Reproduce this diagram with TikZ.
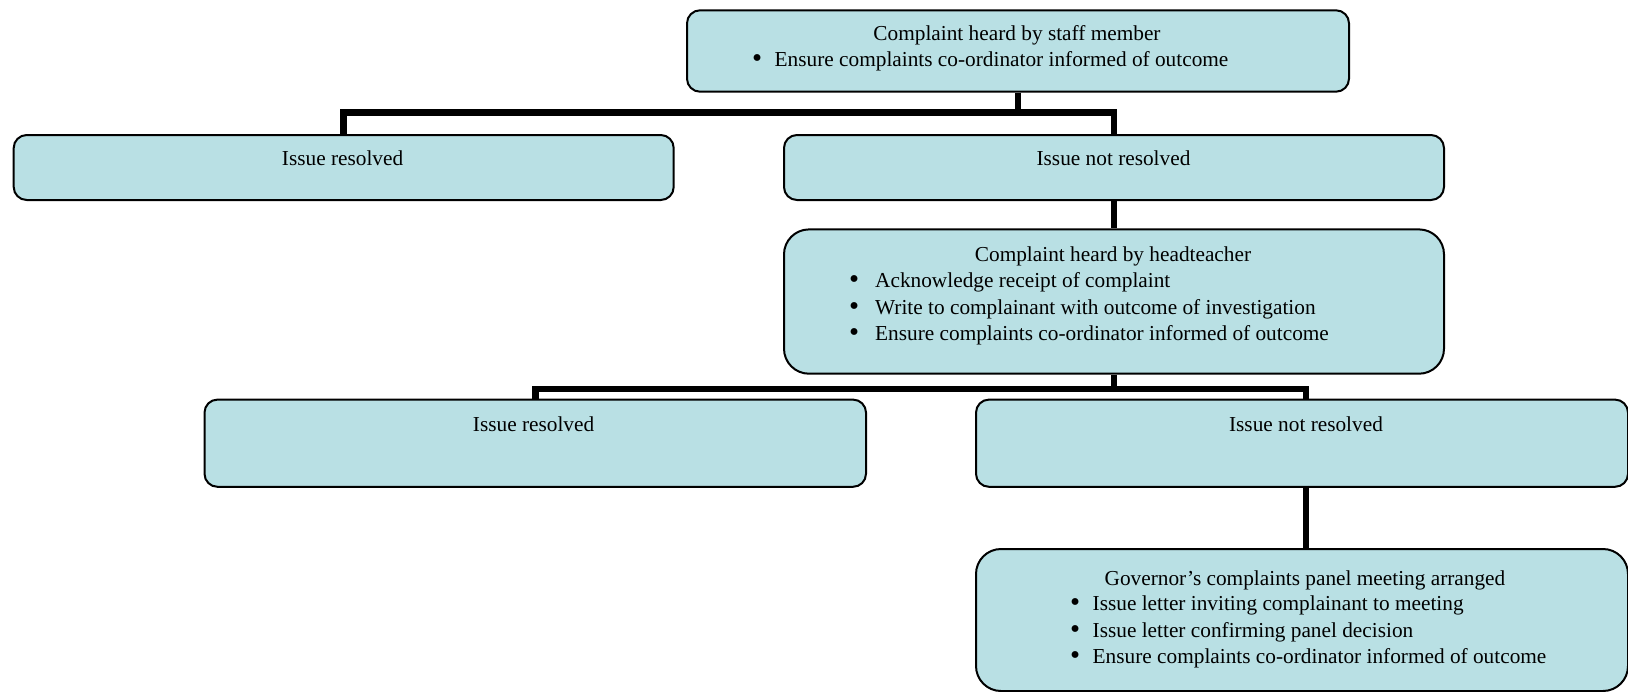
\documentclass[tikz,border=0pt]{standalone}
\usepackage{fontspec}
\usepackage{graphicx}
\setmainfont{Liberation Serif}
\definecolor{boxfill}{RGB}{185,224,228}
\newcommand{\bigbul}{\raisebox{-1.2pt}{\scalebox{1.35}{\textbullet}}}
\begin{document}
\begin{tikzpicture}[x=1pt,y=-1pt,
  box/.style={draw=black, line width=2pt, fill=boxfill, anchor=north west, inner sep=0pt},
  smallr/.style={rounded corners=13pt},
  bigr/.style={rounded corners=25pt},
  txt/.style={inner sep=0pt, font=\fontsize{21.3}{26}\selectfont, text height=15pt, text depth=5pt, yshift=-3pt},
  conn/.style={draw=black, line width=6.5pt}]
\useasboundingbox (0,0) rectangle (1628,691);

% boxes
\node[box, smallr, minimum width=662pt, minimum height=81.4pt] (A) at (686,9.3) {};
\node[box, smallr, minimum width=660pt, minimum height=65pt] (B) at (12.7,134) {};
\node[box, smallr, minimum width=660pt, minimum height=65pt] (C) at (783,134) {};
\node[box, bigr, minimum width=660pt, minimum height=144.3pt] (D) at (783,228.4) {};
\node[box, smallr, minimum width=661.5pt, minimum height=87.2pt] (E) at (203.5,398.6) {};
\node[box, smallr, minimum width=652pt, minimum height=87.2pt] (F) at (975,398.6) {};
\node[box, bigr, minimum width=652pt, minimum height=142pt] (G) at (975,548) {};

% texts
\node[txt] (At) at (1017,32.2) {Complaint heard by staff member};
\node[txt, anchor=west] (A1) at (752,58.1) {\makebox[22.5pt][l]{\bigbul}Ensure complaints co-ordinator informed of outcome};

\node[txt] (Bt) at (342.6,157.8) {Issue resolved};
\node[txt] (Ct) at (1113.5,157.8) {Issue not resolved};

\node[txt] (Dt) at (1113,253.3) {Complaint heard by headteacher};
\node[txt, anchor=west] (D1) at (849,279.2) {\makebox[26pt][l]{\bigbul}Acknowledge receipt of complaint};
\node[txt, anchor=west] (D2) at (849,306.2) {\makebox[26pt][l]{\bigbul}Write to complainant with outcome of investigation};
\node[txt, anchor=west] (D3) at (849,332.2) {\makebox[26pt][l]{\bigbul}Ensure complaints co-ordinator informed of outcome};

\node[txt] (Et) at (533.6,423.6) {Issue resolved};
\node[txt] (Ft) at (1306,423.6) {Issue not resolved};

\node[txt] (Gt) at (1305,577.1) {Governor’s complaints panel meeting arranged};
\node[txt, anchor=west] (G1) at (1070,602) {\makebox[22.5pt][l]{\bigbul}Issue letter inviting complainant to meeting};
\node[txt, anchor=west] (G2) at (1070,629) {\makebox[22.5pt][l]{\bigbul}Issue letter confirming panel decision};
\node[txt, anchor=west] (G3) at (1070,655) {\makebox[22.5pt][l]{\bigbul}Ensure complaints co-ordinator informed of outcome};

% connector coordinates
\coordinate (bar1) at (0,112.5);
\coordinate (bar2) at (0,389);
\coordinate (fTop) at (1306,398.6);
\coordinate (fBot) at (1306,485.8);
\coordinate (gTop) at (1306,548);

% connectors
\draw[conn] (A.south) -- (A.south |- bar1);
\draw[conn] (B.north) |- (C.north |- bar1) -- (C.north);
\draw[conn] (C.south) -- (D.north);
\draw[conn] (D.south) -- (D.south |- bar2);
\draw[conn] (E.north) |- (fTop |- bar2) -- (fTop);
\draw[conn] (fBot) -- (gTop);
\end{tikzpicture}
\end{document}
